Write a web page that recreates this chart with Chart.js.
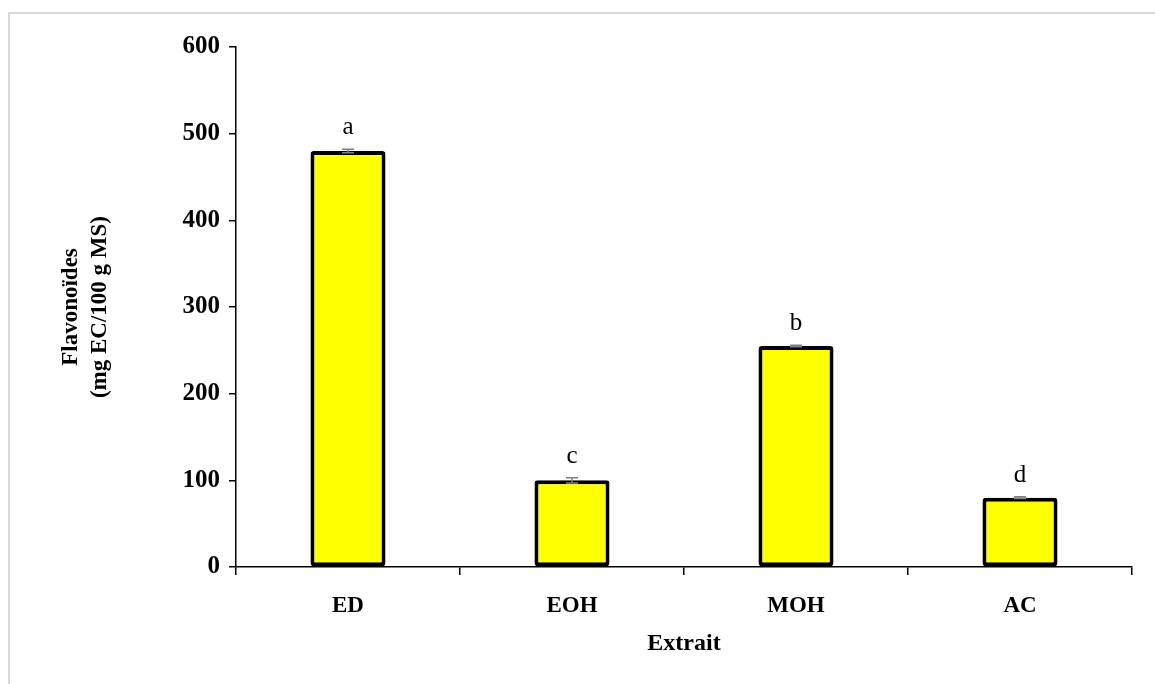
<!DOCTYPE html>
<html>
<head>
<meta charset="utf-8">
<script src="https://cdn.jsdelivr.net/npm/chart.js@4/dist/chart.umd.min.js"></script>
<style>
  html, body { margin: 0; padding: 0; background: #fff; }
  #c { display: block; }
</style>
</head>
<body>
<canvas id="c" width="1155" height="684"></canvas>
<script>
// Flavonoid content per extract (mg EC / 100 g MS)
const categories = ['ED', 'EOH', 'MOH', 'AC'];
const values = [480, 100, 255, 80];
const errors = [2, 3, 1, 1];
const letters = ['a', 'c', 'b', 'd'];
const yTicks = [0, 100, 200, 300, 400, 500, 600];

const SERIF = '"Liberation Serif", "Times New Roman", serif';

// Light frame around the figure
const framePlugin = {
  id: 'frame',
  beforeDraw(chart) {
    const ctx = chart.ctx;
    ctx.save();
    ctx.fillStyle = '#ffffff';
    ctx.fillRect(0, 0, chart.width, chart.height);
    ctx.strokeStyle = '#d9d9d9';
    ctx.lineWidth = 2;
    ctx.beginPath();
    ctx.moveTo(9, chart.height);
    ctx.lineTo(9, 13);
    ctx.lineTo(chart.width, 13);
    ctx.stroke();
    ctx.restore();
  }
};

// Error bars and significance letters above each bar
const annotPlugin = {
  id: 'annot',
  afterDatasetsDraw(chart) {
    const ctx = chart.ctx;
    const xs = chart.scales.x, ys = chart.scales.y;
    ctx.save();
    values.forEach((v, i) => {
      const x = xs.getPixelForValue(i);
      const yHi = ys.getPixelForValue(v + errors[i]);
      const yLo = ys.getPixelForValue(v - errors[i]);
      ctx.strokeStyle = '#7f7f7f';
      ctx.lineWidth = 1.5;
      ctx.beginPath();
      ctx.moveTo(x, yHi); ctx.lineTo(x, yLo);
      ctx.moveTo(x - 6, yHi); ctx.lineTo(x + 6, yHi);
      ctx.moveTo(x - 6, yLo); ctx.lineTo(x + 6, yLo);
      ctx.stroke();
      ctx.fillStyle = '#000';
      ctx.font = '25px ' + SERIF;
      ctx.textAlign = 'center';
      ctx.textBaseline = 'alphabetic';
      ctx.fillText(letters[i], x, yHi - 15);
    });
    ctx.restore();
  }
};

new Chart(document.getElementById('c'), {
  type: 'bar',
  data: {
    labels: categories,
    datasets: [{
      data: values,
      backgroundColor: '#ffff00',
      borderColor: '#000000',
      borderWidth: 4,
      borderRadius: 3,
      borderSkipped: false,
      barPercentage: 0.335,
      categoryPercentage: 1.0
    }]
  },
  options: {
    responsive: false,
    devicePixelRatio: 1,
    animation: false,
    layout: { padding: { left: 0, top: 47, right: 23, bottom: 0 } },
    plugins: {
      legend: { display: false },
      tooltip: { enabled: false }
    },
    scales: {
      x: {
        offset: true,
        grid: {
          display: true,
          offset: true,
          drawOnChartArea: false,
          drawTicks: true,
          tickLength: 8,
          color: '#000',
          lineWidth: 1.5
        },
        border: { display: true, color: '#000', width: 1.5 },
        ticks: {
          color: '#000',
          padding: 17,
          font: { family: SERIF, size: 23, weight: 'bold' }
        },
        title: {
          display: true,
          text: 'Extrait',
          color: '#000',
          padding: { top: 4, bottom: 26 },
          font: { family: SERIF, size: 24, weight: 'bold' }
        },
        afterFit(scale) { scale.height = 684 - 567; }
      },
      y: {
        min: 0,
        max: 600,
        afterBuildTicks(scale) { scale.ticks = yTicks.map(v => ({ value: v })); },
        grid: {
          display: true,
          drawOnChartArea: false,
          drawTicks: true,
          tickLength: 7,
          color: '#000',
          lineWidth: 1.5
        },
        border: { display: true, color: '#000', width: 1.5 },
        ticks: {
          color: '#000',
          padding: 9,
          font: { family: SERIF, size: 25, weight: 'bold' }
        },
        title: {
          display: true,
          text: ['Flavonoïdes', '(mg EC/100 g MS)'],
          color: '#000',
          padding: { top: 57, bottom: 0 },
          font: { family: SERIF, size: 23, weight: 'bold', lineHeight: 1.25 }
        },
        afterFit(scale) { scale.width = 236; }
      }
    }
  },
  plugins: [framePlugin, annotPlugin]
});
</script>
</body>
</html>
